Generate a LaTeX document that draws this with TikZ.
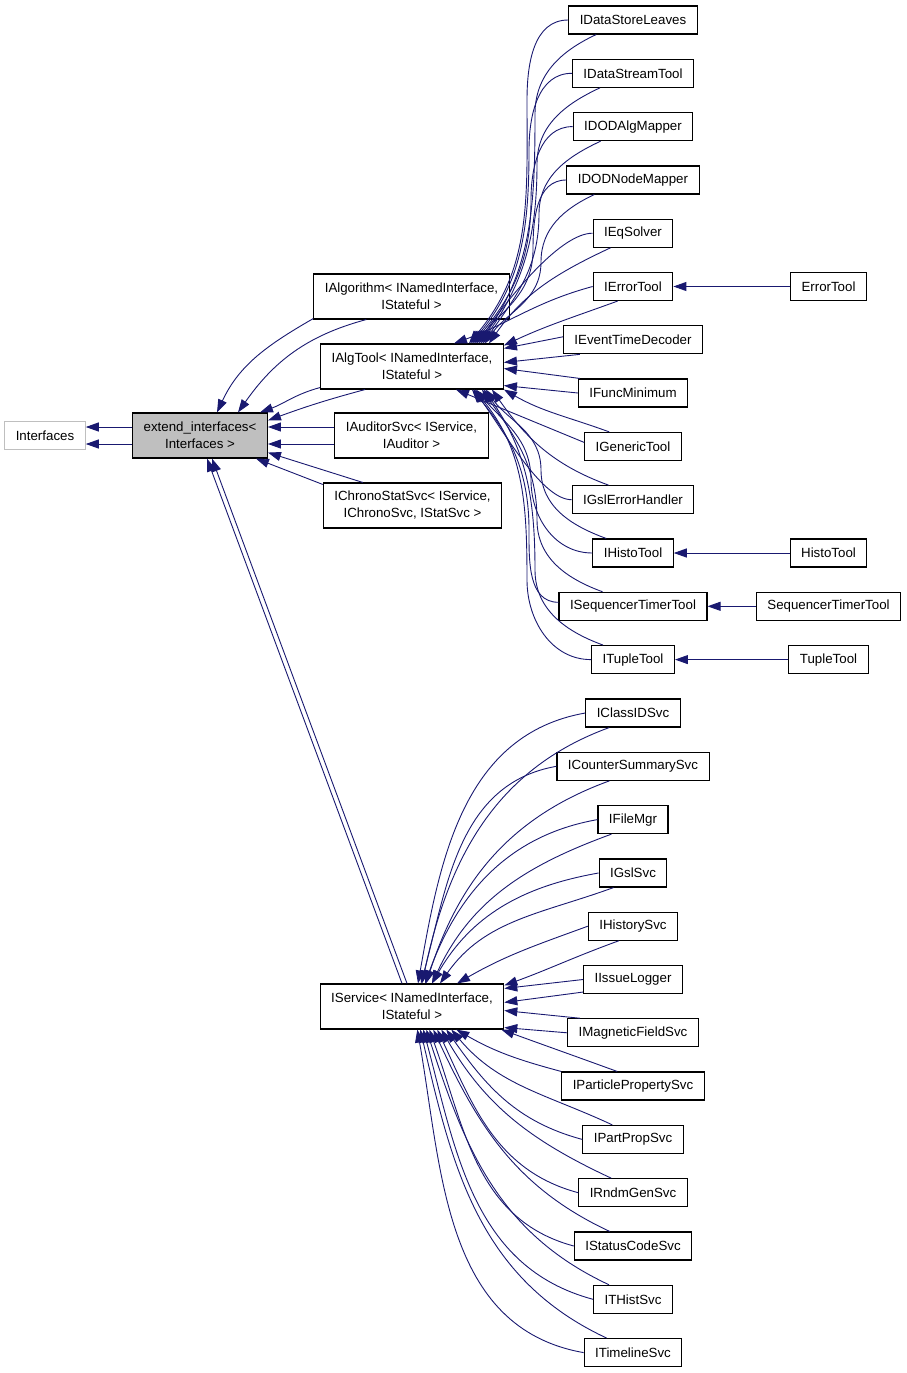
\documentclass[tikz,border=0pt]{standalone}
\usepackage{fontspec}
\setmainfont{Liberation Sans}
\usetikzlibrary{arrows.meta}

\definecolor{edgeblue}{HTML}{191970}
\definecolor{boxgray}{HTML}{BFBFBF}

\begin{document}
\begin{tikzpicture}[x=1pt, y=-1pt,
    box/.style={draw=black, line width=1.1pt, fill=white, minimum height=28pt,
        inner xsep=11pt, inner ysep=2pt, font=\fontsize{13.3}{17}\selectfont},
    box2/.style={box, align=center, minimum height=45pt},
    edge/.style={draw=edgeblue, line width=0.9pt, -{Triangle[length=13pt,width=9pt]}}]
    \useasboundingbox (0,0) rectangle (907,1373);

    %% base classes
    \node[box, draw=boxgray] (ifc) at (45,435.5) {Interfaces};
    \node[box2, fill=boxgray] (ext) at (200,435.5) {extend\_interfaces<\\Interfaces >};

    %% first level
    \node[box2] (ialg) at (411.5,296.5) {IAlgorithm< INamedInterface,\\IStateful >};
    \node[box2] (itool) at (412,366.5) {IAlgTool< INamedInterface,\\IStateful >};
    \node[box2] (iaud) at (411.5,435.5) {IAuditorSvc< IService,\\IAuditor >};
    \node[box2] (ichrono) at (412.5,505.5) {IChronoStatSvc< IService,\\IChronoSvc, IStatSvc >};
    \node[box2] (isvc) at (412,1006.5) {IService< INamedInterface,\\IStateful >};

    %% tools
    \node[box] (dsl) at (633,20) {IDataStoreLeaves};
    \node[box] (dst) at (633,73.3) {IDataStreamTool};
    \node[box] (dodalg) at (633,126.6) {IDODAlgMapper};
    \node[box] (dodnode) at (633,180) {IDODNodeMapper};
    \node[box] (eqs) at (633,233.2) {IEqSolver};
    \node[box] (errt) at (633,286.5) {IErrorTool};
    \node[box] (etd) at (633,339.8) {IEventTimeDecoder};
    \node[box] (fmin) at (633,393) {IFuncMinimum};
    \node[box] (gen) at (633,446.4) {IGenericTool};
    \node[box] (gslerr) at (633,499.7) {IGslErrorHandler};
    \node[box] (histo) at (633,553) {IHistoTool};
    \node[box] (seqt) at (633,606.3) {ISequencerTimerTool};
    \node[box] (tuple) at (633,659.6) {ITupleTool};

    %% implementations
    \node[box] (errtool) at (828.5,286.5) {ErrorTool};
    \node[box] (histotool) at (828.5,553) {HistoTool};
    \node[box] (seqtool) at (828.5,606.3) {SequencerTimerTool};
    \node[box] (tupletool) at (828.5,659.6) {TupleTool};

    %% services
    \node[box] (clid) at (633,713) {IClassIDSvc};
    \node[box] (cntsum) at (633,766.3) {ICounterSummarySvc};
    \node[box] (filemgr) at (633,819.6) {IFileMgr};
    \node[box] (gslsvc) at (633,873) {IGslSvc};
    \node[box] (hist) at (633,926.2) {IHistorySvc};
    \node[box] (issue) at (633,979.5) {IIssueLogger};
    \node[box] (magf) at (633,1032.8) {IMagneticFieldSvc};
    \node[box] (ppsvc) at (633,1086) {IParticlePropertySvc};
    \node[box] (partprop) at (633,1139.4) {IPartPropSvc};
    \node[box] (rndm) at (633,1192.7) {IRndmGenSvc};
    \node[box] (status) at (633,1246) {IStatusCodeSvc};
    \node[box] (thist) at (633,1299.3) {ITHistSvc};
    \node[box] (timeline) at (633,1352.6) {ITimelineSvc};

    %% extend_interfaces
    \draw[edge] ([yshift=8.5pt]ext.west) -- ([yshift=8.5pt]ifc.east);
    \draw[edge] ([yshift=-8.5pt]ext.west) -- ([yshift=-8.5pt]ifc.east);

    %% first level to extend_interfaces
    \draw[edge] ([yshift=1pt]ialg.south west) to[out=210,in=65] ([xshift=17pt]ext.north);
    \draw[edge] ([xshift=53pt]ialg.south west) to[out=195,in=55] ([xshift=38pt]ext.north);
    \draw[edge] ([yshift=2pt]itool.south west) to[out=195,in=20] ([xshift=-8pt]ext.north east);
    \draw[edge] ([xshift=45pt]itool.south west) to[out=195,in=20] ([yshift=-8pt]ext.north east);
    \draw[edge] ([yshift=8.5pt]iaud.west) -- ([yshift=8.5pt]ext.east);
    \draw[edge] ([yshift=-8.5pt]iaud.west) -- ([yshift=-8.5pt]ext.east);
    \draw[edge] ([yshift=-2pt]ichrono.north west) -- ([xshift=-12pt]ext.south east);
    \draw[edge] ([xshift=40pt]ichrono.north west) -- ([yshift=6pt]ext.south east);
    \draw[edge] ([xshift=-10pt]isvc.north) -- ([xshift=7pt]ext.south);
    \draw[edge] ([xshift=-5pt]isvc.north) -- ([xshift=12pt]ext.south);

    %% tools above IAlgTool
    \draw[edge] (dsl.west) to[out=180,in=90] (527,100) to[out=-90,in=50] ([xshift=-35pt]itool.north east);
    \draw[edge] ([xshift=28pt]dsl.south west) to[out=205,in=90] (535,114) to[out=-90,in=55] ([xshift=-25pt]itool.north east);
    \draw[edge] (dst.west) to[out=180,in=90] (529,150) to[out=-90,in=50] ([xshift=-33pt]itool.north east);
    \draw[edge] ([xshift=28pt]dst.south west) to[out=205,in=90] (537,164) to[out=-90,in=55] ([xshift=-23pt]itool.north east);
    \draw[edge] (dodalg.west) to[out=180,in=90] (531,200) to[out=-90,in=50] ([xshift=-31pt]itool.north east);
    \draw[edge] ([xshift=28pt]dodalg.south west) to[out=205,in=90] (539,214) to[out=-90,in=55] ([xshift=-21pt]itool.north east);
    \draw[edge] (dodnode.west) to[out=180,in=90] (533,250) to[out=-90,in=50] ([xshift=-29pt]itool.north east);
    \draw[edge] ([xshift=28pt]dodnode.south west) to[out=205,in=90] (541,262) to[out=-90,in=55] ([xshift=-19pt]itool.north east);
    \draw[edge] (eqs.west) to[out=180,in=55,out looseness=0.5] ([xshift=-27pt]itool.north east);
    \draw[edge] ([xshift=18pt]eqs.south west) to[out=205,in=55] ([xshift=-15pt]itool.north east);
    \draw[edge] (errt.west) to[out=195,in=20] ([xshift=-50pt]itool.north east);
    \draw[edge] ([xshift=25pt]errt.south west) to[out=200,in=25] ([yshift=-2pt]itool.north east);

    %% tools beside IAlgTool
    \draw[edge] ([yshift=3pt]etd.west) -- ([yshift=-5pt]itool.north east);
    \draw[edge] ([xshift=17pt]etd.south west) -- ([yshift=-19pt]itool.north east);
    \draw[edge] ([xshift=2pt]fmin.north west) -- ([yshift=-2pt]itool.east);
    \draw[edge] (fmin.west) -- ([yshift=4pt]itool.south east);
    \draw[edge] ([xshift=25pt]gen.north west) to[out=160,in=-30] (itool.south east);
    \draw[edge] ([yshift=4pt]gen.west) -- ([xshift=-48pt]itool.south east);

    %% tools below IAlgTool
    \draw[edge] (gslerr.west) to[out=180,in=-55,out looseness=0.5] ([xshift=-30pt]itool.south east);
    \draw[edge] ([xshift=37pt]gslerr.north west) to[out=160,in=-55] ([xshift=-12pt]itool.south east);
    \draw[edge] (histo.west) to[out=180,in=-90] (531,480) to[out=90,in=-50] ([xshift=-28pt]itool.south east);
    \draw[edge] ([xshift=14pt]histo.north west) to[out=160,in=-90] (541,470) to[out=90,in=-55] ([xshift=-18pt]itool.south east);
    \draw[edge] ([yshift=4pt]seqt.west) to[out=180,in=-90] (529,530) to[out=90,in=-50] ([xshift=-32pt]itool.south east);
    \draw[edge] ([xshift=44pt]seqt.north west) to[out=160,in=-90] (537,520) to[out=90,in=-55] ([xshift=-22pt]itool.south east);
    \draw[edge] (tuple.west) to[out=180,in=-90] (527,580) to[out=90,in=-50] ([xshift=-30pt]itool.south east);
    \draw[edge] ([xshift=12pt]tuple.north west) to[out=160,in=-90] (535,570) to[out=90,in=-55] ([xshift=-20pt]itool.south east);

    %% implementations
    \draw[edge] (errtool.west) -- (errt.east);
    \draw[edge] (histotool.west) -- (histo.east);
    \draw[edge] (seqtool.west) -- (seqt.east);
    \draw[edge] (tupletool.west) -- (tuple.east);

    %% services above IService
    \draw[edge] (clid.west) to[out=190,in=80] ([xshift=6pt]isvc.north);
    \draw[edge] ([xshift=24pt]clid.south west) to[out=200,in=78] ([xshift=10pt]isvc.north);
    \draw[edge] (cntsum.west) to[out=190,in=75] ([xshift=9pt]isvc.north);
    \draw[edge] ([xshift=53pt]cntsum.south west) to[out=200,in=72] ([xshift=14pt]isvc.north);
    \draw[edge] (filemgr.west) to[out=190,in=70] ([xshift=13pt]isvc.north);
    \draw[edge] ([xshift=14pt]filemgr.south west) to[out=200,in=65] ([xshift=20pt]isvc.north);
    \draw[edge] (gslsvc.west) to[out=190,in=60] ([xshift=20pt]isvc.north);
    \draw[edge] ([xshift=15pt]gslsvc.south west) to[out=200,in=55] ([xshift=28pt]isvc.north);
    \draw[edge] (hist.west) to[out=200,in=30] ([xshift=45pt]isvc.north);
    \draw[edge] ([xshift=31pt]hist.south west) to[out=200,in=20] ([yshift=-2pt]isvc.north east);

    %% services beside IService
    \draw[edge] (issue.west) -- ([yshift=-5pt]isvc.north east);
    \draw[edge] ([yshift=2pt]issue.south west) -- ([yshift=-19pt]isvc.north east);
    \draw[edge] ([xshift=13pt]magf.north west) -- ([yshift=19pt]isvc.south east);
    \draw[edge] (magf.west) -- ([yshift=2pt]isvc.south east);
    \draw[edge] ([xshift=56pt]ppsvc.north west) to[out=160,in=-20] ([xshift=-3pt]isvc.south east);
    \draw[edge] (ppsvc.north west) to[out=165,in=-30] ([xshift=-48pt]isvc.south east);

    %% services below IService
    \draw[edge] ([xshift=30pt]partprop.north west) to[out=155,in=-50] ([xshift=-53pt]isvc.south east);
    \draw[edge] (partprop.west) to[out=165,in=-55] ([xshift=-58pt]isvc.south east);
    \draw[edge] ([xshift=33pt]rndm.north west) to[out=155,in=-60] ([xshift=-63pt]isvc.south east);
    \draw[edge] (rndm.west) to[out=165,in=-65] ([xshift=-67pt]isvc.south east);
    \draw[edge] ([xshift=36pt]status.north west) to[out=155,in=-65] ([xshift=-71pt]isvc.south east);
    \draw[edge] (status.west) to[out=165,in=-70] ([xshift=-75pt]isvc.south east);
    \draw[edge] ([xshift=16pt]thist.north west) to[out=155,in=-72] ([xshift=-78pt]isvc.south east);
    \draw[edge] (thist.west) to[out=165,in=-75] ([xshift=-81pt]isvc.south east);
    \draw[edge] ([xshift=23pt]timeline.north west) to[out=155,in=-77] ([xshift=-84pt]isvc.south east);
    \draw[edge] (timeline.west) to[out=170,in=-80] ([xshift=-87pt]isvc.south east);
\end{tikzpicture}
\end{document}
